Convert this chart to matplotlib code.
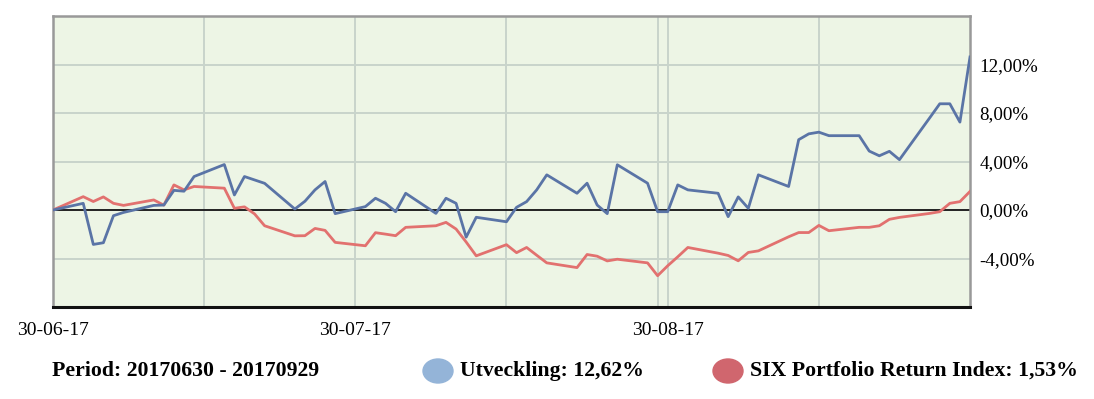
import numpy as np
import pandas as pd
import matplotlib
matplotlib.use("Agg")
import matplotlib.pyplot as plt
import matplotlib.dates as mdates
from matplotlib.patches import Ellipse
from matplotlib.ticker import FixedLocator, FuncFormatter

plt.rcParams['font.family'] = ['Liberation Serif', 'DejaVu Serif']

# trading days 30-06-17 .. 29-09-17
dates = pd.bdate_range('2017-06-30', '2017-09-29')

utveckling = [
    0.00,
    0.55, -2.84, -2.70, -0.47, -0.20,
    0.38, 0.41, 1.62, 1.55, 2.76,
    3.75, 1.24, 2.76, 2.48, 2.20,
    0.08, 0.72, 1.66, 2.35, -0.30,
    0.28, 0.97, 0.55, -0.14, 1.38,
    -0.28, 0.97, 0.55, -2.24, -0.60,
    -0.97, 0.22, 0.69, 1.66, 2.90,
    1.38, 2.21, 0.41, -0.30, 3.73,
    2.21, -0.14, -0.14, 2.07, 1.66,
    1.38, -0.55, 1.08, 0.14, 2.90,
    1.94, 5.80, 6.28, 6.42, 6.13,
    6.13, 4.86, 4.47, 4.84, 4.15,
    7.60, 8.76, 8.76, 7.25, 12.62,
]

six_index = [
    0.00,
    1.10, 0.70, 1.08, 0.55, 0.38,
    0.83, 0.40, 2.07, 1.66, 1.94,
    1.80, 0.14, 0.26, -0.32, -1.30,
    -2.13, -2.12, -1.52, -1.68, -2.67,
    -2.95, -1.87, -1.99, -2.12, -1.43,
    -1.30, -1.02, -1.57, -2.64, -3.78,
    -2.86, -3.52, -3.09, -3.73, -4.36,
    -4.75, -3.67, -3.81, -4.20, -4.06,
    -4.36, -5.42, -4.60, -3.86, -3.09,
    -3.56, -3.75, -4.19, -3.50, -3.37,
    -2.21, -1.86, -1.86, -1.27, -1.71,
    -1.43, -1.43, -1.30, -0.77, -0.61,
    -0.28, -0.14, 0.55, 0.69, 1.53,
]

x_labels = ['2017-06-30', '2017-07-30', '2017-08-30']
x_grid = ['2017-07-15', '2017-07-30', '2017-08-14', '2017-08-29', '2017-08-30', '2017-09-14']
y_ticks = [-4, 0, 4, 8, 12]

fig = plt.figure(figsize=(10.94, 3.99), dpi=100)
ax = fig.add_axes([53 / 1094, 1 - 307 / 399, 917 / 1094, 291 / 399])
ax.set_facecolor('#EDF5E5')

ax.plot(dates, utveckling, color='#5A74A6', lw=2.0, zorder=4)
ax.plot(dates, six_index, color='#E2716F', lw=2.0, zorder=3)
ax.axhline(0, color='#222222', lw=1.4, zorder=2)

ax.set_xlim(pd.Timestamp('2017-06-30'), pd.Timestamp('2017-09-29'))
ax.set_ylim(-8, 16)

for d in x_grid:
    ax.axvline(pd.Timestamp(d), color='#C8D4CB', lw=1.4, zorder=1)
for v in [-4, 4, 8, 12]:
    ax.axhline(v, color='#C8D4CB', lw=1.4, zorder=1)

ax.xaxis.set_major_locator(FixedLocator([mdates.date2num(pd.Timestamp(d)) for d in x_labels]))
ax.xaxis.set_major_formatter(mdates.DateFormatter('%d-%m-%y'))
ax.yaxis.tick_right()
ax.yaxis.set_major_locator(FixedLocator(y_ticks))
ax.yaxis.set_major_formatter(FuncFormatter(lambda v, p: ('%.2f%%' % v).replace('.', ',')))
ax.tick_params(axis='x', length=0, pad=11, labelsize=14)
ax.tick_params(axis='y', length=0, pad=7, labelsize=13.7)

for side in ['top', 'left', 'right']:
    ax.spines[side].set_color('#999999')
    ax.spines[side].set_linewidth(1.8)
ax.spines['bottom'].set_color('#111111')
ax.spines['bottom'].set_linewidth(2.2)

# legend row
ty = 1 - 371 / 399
fig.text(52 / 1094, ty, 'Period: 20170630 - 20170929', fontsize=15.7, fontweight='bold', va='center')
fig.patches.append(Ellipse((438 / 1094, ty), 30 / 1094, 24 / 399, color='#94B4D8', transform=fig.transFigure))
fig.text(460 / 1094, ty, 'Utveckling: 12,62%', fontsize=15.7, fontweight='bold', va='center')
fig.patches.append(Ellipse((728 / 1094, ty), 30 / 1094, 24 / 399, color='#D0666E', transform=fig.transFigure))
fig.text(750 / 1094, ty, 'SIX Portfolio Return Index: 1,53%', fontsize=15.7, fontweight='bold', va='center')

fig.savefig('out.png', dpi=100)
